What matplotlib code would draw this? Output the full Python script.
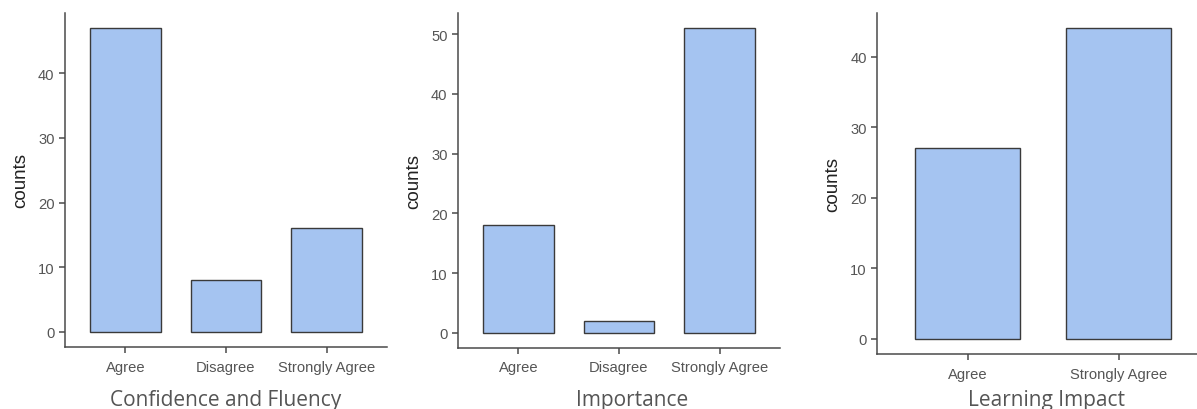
import numpy as np
import matplotlib.pyplot as plt

# datos de cada panel
cat_conf = ['Agree', 'Disagree', 'Strongly Agree']
val_conf = [47, 8, 16]
cat_imp = ['Agree', 'Disagree', 'Strongly Agree']
val_imp = [18, 2, 51]
cat_learn = ['Agree', 'Strongly Agree']
val_learn = [27, 44]

titulos = ['Confidence and Fluency', 'Importance', 'Learning Impact']

color_barra = '#a5c4f1'
color_borde = '#3a3a3a'
color_eje = '#4a4a4a'

plt.rcParams['font.family'] = ['Liberation Sans', 'DejaVu Sans']

fig = plt.figure(figsize=(11.97, 4.10), dpi=100)

# [left, bottom, width, height] en fraccion de figura
posiciones = [
    [0.0543, 0.1512, 0.2690, 0.8147],
    [0.3826, 0.1488, 0.2690, 0.8171],
    [0.7327, 0.1341, 0.2774, 0.8318],
]
paneles = [(cat_conf, val_conf), (cat_imp, val_imp), (cat_learn, val_learn)]
centros_titulo = [226, 632, 1047]

for pos, (cats, vals), titulo, cx in zip(posiciones, paneles, titulos, centros_titulo):
    ax = fig.add_axes(pos)
    x = np.arange(len(cats))
    ax.bar(x, vals, width=0.7, color=color_barra, edgecolor=color_borde, linewidth=1.0)
    ax.set_xlim(-0.6, len(cats) - 0.4)
    top = max(vals)
    ax.set_ylim(-0.05 * top, 1.05 * top)
    ax.set_xticks(x)
    ax.set_xticklabels(cats)
    ax.set_yticks(np.arange(0, top + 1, 10))
    for s in ['top', 'right']:
        ax.spines[s].set_visible(False)
    for s in ['left', 'bottom']:
        ax.spines[s].set_color(color_eje)
        ax.spines[s].set_linewidth(1.1)
    ax.tick_params(axis='both', colors=color_eje, labelcolor='#555555',
                   labelsize=10.6, length=4, width=1.1)
    ax.tick_params(axis='x', pad=5)
    ax.set_ylabel('counts', fontsize=13.5, color='#222222', labelpad=6)
    fig.text(cx / 1197, 1 - 401 / 410, titulo, ha='center', va='center',
             fontsize=15, color='#555555', family=['Open Sans', 'DejaVu Sans'])

fig.savefig('out.png', dpi=100)
